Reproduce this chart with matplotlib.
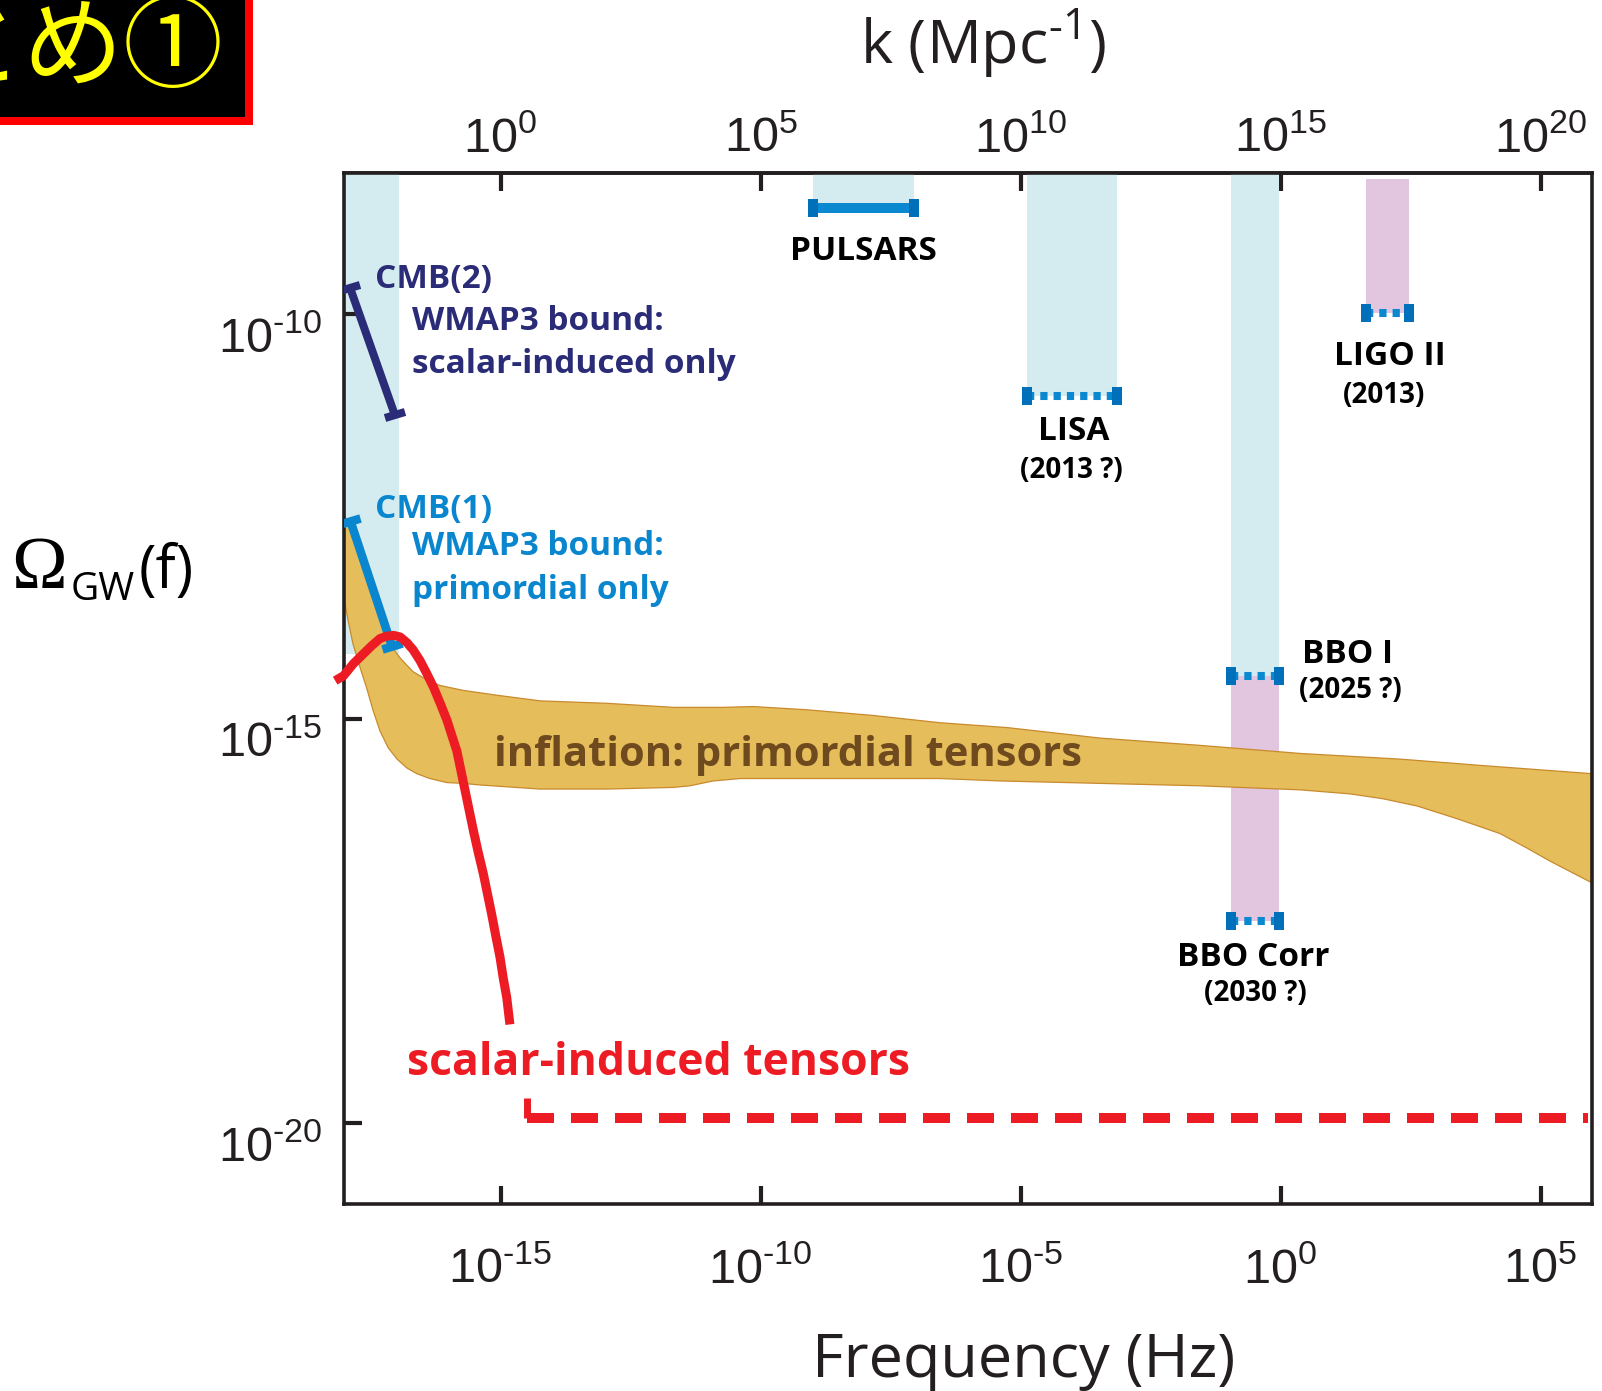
import numpy as np
import matplotlib
matplotlib.use("Agg")
import matplotlib.pyplot as plt
from matplotlib.markers import MarkerStyle
from matplotlib.transforms import Affine2D, ScaledTranslation
from matplotlib.patches import Rectangle
from matplotlib.ticker import FixedLocator, FuncFormatter, NullLocator

plt.rcParams['font.family'] = ['Open Sans', 'DejaVu Sans']

# ---------------- data (all values are log10) ----------------
# x = log10(f / Hz), y = log10(Omega_GW)
infl_upper_x = [-18.02, -17.51, -17.07, -16.93, -16.80, -16.68, -16.55, -16.36, -16.16, -15.72, -15.07,
                -14.24, -12.95, -11.68, -10.72, -10.14, -9.11, -7.84, -6.55, -5.26, -3.47, -1.55, 0.38,
                2.30, 3.89, 5.99]
infl_upper_y = [-12.45, -13.35, -14.13, -14.25, -14.34, -14.42, -14.47, -14.54, -14.59, -14.65, -14.71,
                -14.78, -14.81, -14.86, -14.86, -14.85, -14.89, -14.96, -15.05, -15.11, -15.24, -15.33, -15.43,
                -15.50, -15.58, -15.68]
infl_lower_x = [-18.02, -17.93, -17.84, -17.70, -17.57, -17.45, -17.32, -17.16, -16.99, -16.80, -16.61,
                -16.36, -16.03, -15.72, -15.39, -14.24, -12.95, -11.68, -11.36, -10.91, -10.39, -9.11,
                -7.84, -6.55, -5.39, -3.47, -1.55, 0.38, 1.34, 1.97, 2.63, 3.41, 4.22, 4.74, 5.18, 5.99]
infl_lower_y = [-13.48, -13.79, -14.07, -14.37, -14.63, -14.90, -15.15, -15.36, -15.50, -15.61, -15.68,
                -15.74, -15.79, -15.80, -15.82, -15.87, -15.87, -15.85, -15.83, -15.77, -15.74, -15.74,
                -15.74, -15.74, -15.77, -15.80, -15.83, -15.88, -15.93, -15.99, -16.08, -16.24, -16.42,
                -16.60, -16.76, -17.03]

scalar_x = [-18.18, -18.02, -17.83, -17.64, -17.48, -17.32, -17.19, -17.06, -16.93, -16.80, -16.68,
            -16.55, -16.42, -16.29, -16.16, -16.03, -15.84, -15.72, -15.62, -15.52, -15.43, -15.33,
            -15.25, -15.17, -15.09, -15.01, -14.95, -14.88, -14.82]
scalar_y = [-14.53, -14.47, -14.32, -14.20, -14.10, -14.01, -13.98, -13.97, -13.99, -14.06, -14.15,
            -14.28, -14.44, -14.61, -14.81, -15.02, -15.40, -15.77, -16.08, -16.39, -16.65, -16.92,
            -17.17, -17.42, -17.69, -17.95, -18.20, -18.45, -18.78]
scalar_step_x = [-14.49, -14.49]
scalar_step_y = [-19.69, -19.94]
scalar_flat_x = [-14.49, 5.91]
scalar_flat_y = [-19.94, -19.94]

cmb2_x = [-17.89, -17.03]
cmb2_y = [-9.68, -11.25]
cmb1_x = [-17.89, -17.09]
cmb1_y = [-12.55, -14.10]

# sensitivity bands
Y_TOP = -8.26
band_names = ['CMB', 'PULSARS', 'LISA', 'BBO I', 'BBO Corr', 'LIGO II']
band_x_lo = [-18.02, -9.00, -4.87, -0.96, -0.96, 1.64]
band_x_hi = [-16.95, -7.05, -3.15, -0.02, -0.02, 2.47]
band_y_lo = [-14.20, -8.69, -11.01, -14.47, -17.50, -9.99]
band_y_hi = [Y_TOP, Y_TOP, Y_TOP, Y_TOP, -14.47, -8.33]
band_kind = ['cyan', 'cyan', 'cyan', 'cyan', 'purple', 'purple']

# detector sensitivity bars
bar_names = ['PULSARS', 'LISA', 'LIGO II', 'BBO I', 'BBO Corr']
bar_x_lo = [-9.00, -4.87, 1.64, -0.96, -0.96]
bar_x_hi = [-7.05, -3.15, 2.47, -0.02, -0.02]
bar_y = [-8.69, -11.01, -9.99, -14.47, -17.50]
bar_solid = [True, False, False, False, False]

x_ticks = [-15, -10, -5, 0, 5]
k_ticks = [0, 5, 10, 15, 20]
y_ticks = [-20, -15, -10]
K_PER_HZ = 1e15

# ---------------- colours ----------------
CYAN = '#d4ecf0'
PURPLE = '#e2c6e0'
GOLD = '#e5bd5a'
GOLD_EDGE = '#c98a2e'
BROWN = '#6e4a1e'
RED = '#ed1c24'
NAVY = '#2b2c78'
BLUE = '#0a86cf'
BARBLUE = '#0a88d0'
CAPBLUE = '#0070bb'
INK = '#231f20'
TICKFONT = ['Liberation Sans', 'DejaVu Sans']
HY = '\u2010'

fig = plt.figure(figsize=(16.02, 13.91), dpi=100)
ax = fig.add_axes([0.21442, 0.13444, 0.77934, 0.74083])
ax.set_xscale('log')
ax.set_yscale('log')
ax.set_xlim(10**-18.02, 10**5.99)
ax.set_ylim(10**-21.0, 10**Y_TOP)

P = lambda a: 10.0**np.asarray(a, dtype=float)

# bands
for xl, xh, yl, yh, kd in zip(band_x_lo, band_x_hi, band_y_lo, band_y_hi, band_kind):
    ax.fill_between(P([xl, xh]), P(yl), P(yh), color=CYAN if kd == 'cyan' else PURPLE,
                    lw=0, zorder=1)

# inflation band
poly_x = list(infl_upper_x) + list(infl_lower_x[::-1])
poly_y = list(infl_upper_y) + list(infl_lower_y[::-1])
ax.fill(P(poly_x), P(poly_y), color=GOLD, lw=0, zorder=2)
ax.plot(P(infl_upper_x), P(infl_upper_y), color=GOLD_EDGE, lw=0.9, zorder=2.1)
ax.plot(P(infl_lower_x), P(infl_lower_y), color=GOLD_EDGE, lw=0.9, zorder=2.1)

# detector bars
for xl, xh, yv, solid in zip(bar_x_lo, bar_x_hi, bar_y, bar_solid):
    if solid:
        ax.plot(P([xl, xh]), P([yv, yv]), color=BARBLUE, lw=7.2, solid_capstyle='butt', zorder=3)
    else:
        ax.plot(P([xl, xh]), P([yv, yv]), color=BARBLUE, lw=5.8, dash_capstyle='butt',
                linestyle=(0, (0.9, 0.75)), zorder=3)
    ax.plot(P([xl, xh]), P([yv, yv]), ls='none', marker='|', markersize=13, mew=7.2,
            color=CAPBLUE, zorder=3.1)


def seg_angle(xs, ys):
    p0 = ax.transData.transform((10**xs[0], 10**ys[0]))
    p1 = ax.transData.transform((10**xs[1], 10**ys[1]))
    return np.degrees(np.arctan2(p1[1] - p0[1], p1[0] - p0[0]))


for xs, ys, col, lw in [(cmb2_x, cmb2_y, NAVY, 5.8), (cmb1_x, cmb1_y, BLUE, 6.2)]:
    ang = seg_angle(xs, ys)
    ax.plot(P(xs), P(ys), color=col, lw=lw, solid_capstyle='butt', zorder=4)
    mk = MarkerStyle('_', transform=Affine2D().rotate_deg(ang + 90))
    ax.plot(P(xs), P(ys), ls='none', marker=mk, markersize=15, mew=lw, color=col, zorder=4)

# scalar-induced tensors
ax.plot(P(scalar_x), P(scalar_y), color=RED, lw=6.5, solid_capstyle='butt', solid_joinstyle='round',
        zorder=5, clip_on=False)
ax.plot(P(scalar_step_x), P(scalar_step_y), color=RED, lw=5.0, solid_capstyle='butt', zorder=5)
ax.plot(P(scalar_flat_x), P(scalar_flat_y), color=RED, lw=7.2, dash_capstyle='butt',
        linestyle=(0, (2.7, 1.7)), zorder=5)

# ---------------- annotations ----------------
def T(x, y, s, **kw):
    ax.text(10**x, 10**y, s, va='baseline', zorder=6, **kw)

T(-17.41, -9.68, 'CMB(2)', color=NAVY, fontsize=24, fontweight='bold', ha='left')
T(-16.71, -10.20, 'WMAP3 bound:', color=NAVY, fontsize=24, fontweight='bold', ha='left')
T(-16.71, -10.73, 'scalar-induced only', color=NAVY, fontsize=24, fontweight='bold', ha='left')
T(-17.41, -12.52, 'CMB(1)', color=BLUE, fontsize=24, fontweight='bold', ha='left')
T(-16.71, -12.98, 'WMAP3 bound:', color=BLUE, fontsize=24, fontweight='bold', ha='left')
T(-16.71, -13.52, 'primordial only', color=BLUE, fontsize=24, fontweight='bold', ha='left')

T(-8.02, -9.33, 'PULSARS', color='black', fontsize=24, fontweight='bold', ha='center')
T(-3.97, -11.56, 'LISA', color='black', fontsize=24, fontweight='bold', ha='center')
T(-4.03, -12.02, '(2013 ?)', color='black', fontsize=20, fontweight='bold', ha='center')
T(2.11, -10.63, 'LIGO II', color='black', fontsize=24, fontweight='bold', ha='center')
T(2.00, -11.10, '(2013)', color='black', fontsize=20, fontweight='bold', ha='center')
T(1.28, -14.31, 'BBO I', color='black', fontsize=24, fontweight='bold', ha='center')
T(1.34, -14.75, '(2025 ?)', color='black', fontsize=20, fontweight='bold', ha='center')
T(-0.53, -18.06, 'BBO Corr', color='black', fontsize=24, fontweight='bold', ha='center')
T(-0.49, -18.49, '(2030 ?)', color='black', fontsize=20, fontweight='bold', ha='center')

T(-15.125, -15.58, 'inflation: primordial tensors', color=BROWN, fontsize=30, fontweight='bold', ha='left')
T(-16.80, -19.41, 'scalar-induced tensors', color=RED, fontsize=32, fontweight='bold', ha='left')

# ---------------- axes styling ----------------
def pow_label(v, pos):
    e = int(round(np.log10(v)))
    es = (HY + str(-e)) if e < 0 else str(e)
    return r'$\mathregular{10^{%s}}$' % es

fmt = FuncFormatter(pow_label)
ax.xaxis.set_major_locator(FixedLocator(P(x_ticks)))
ax.xaxis.set_minor_locator(NullLocator())
ax.yaxis.set_major_locator(FixedLocator(P(y_ticks)))
ax.yaxis.set_minor_locator(NullLocator())
ax.xaxis.set_major_formatter(fmt)
ax.yaxis.set_major_formatter(fmt)
ax.tick_params(which='major', direction='in', length=13, width=3, color=INK, labelcolor=INK,
               labelsize=35, top=False, right=False, labelfontfamily=TICKFONT)
ax.tick_params(axis='x', pad=0)
ax.tick_params(axis='y', pad=15.5)
for s in ax.spines.values():
    s.set_linewidth(2.6)
    s.set_color(INK)

secax = ax.secondary_xaxis('top', functions=(lambda f: f * K_PER_HZ, lambda k: k / K_PER_HZ))
secax.xaxis.set_major_locator(FixedLocator(P(k_ticks)))
secax.xaxis.set_minor_locator(NullLocator())
secax.xaxis.set_major_formatter(fmt)
secax.tick_params(which='major', direction='in', length=13, width=3, color=INK, labelcolor=INK,
                  labelsize=35, pad=0, labelfontfamily=TICKFONT)
secax.spines['top'].set_linewidth(2.6)
secax.spines['top'].set_color(INK)


def offset_labels(axis, dy_px):
    for t in axis.get_major_ticks():
        for lab in (t.label1, t.label2):
            lab.set_va('baseline')
            lab.set_transform(lab.get_transform() + ScaledTranslation(0, dy_px / 100.0, fig.dpi_scale_trans))

offset_labels(ax.xaxis, -79)
offset_labels(ax.yaxis, -38)
offset_labels(secax.xaxis, 21)

ax.set_xlabel('Frequency (Hz)', fontsize=44, color=INK)
ax.xaxis.label.set_va('baseline')
ax.xaxis.set_label_coords(0.545, -0.168)
secax.set_xlabel(r'k (Mpc$^{\mathregular{%s1}}$)' % HY, fontsize=44, color=INK)
secax.xaxis.label.set_va('baseline')
secax.xaxis.set_label_coords(0.512, 1.107, transform=ax.transAxes)

# y label  Omega_GW(f)
H, W = 1391.0, 1602.0
fig.text(11 / W, 1 - 588 / H, '\u03a9', fontsize=54, family=['Liberation Serif', 'DejaVu Serif'],
         color='black', va='baseline', ha='left')
fig.text(71 / W, 1 - 600 / H, 'GW', fontsize=28, color='black', va='baseline', ha='left')
fig.text(139 / W, 1 - 588 / H, '(f)', fontsize=43, color='black', va='baseline', ha='left')

# title badge (top-left)
fig.patches.append(Rectangle((0, 1 - 125 / H), 253 / W, 125 / H, transform=fig.transFigure,
                             facecolor='#ff0000', edgecolor='none', zorder=0))
fig.patches.append(Rectangle((0, 1 - 117 / H), 245 / W, 117 / H, transform=fig.transFigure,
                             facecolor='black', edgecolor='none', zorder=0.5))
fig.text(224 / W, 1 - 50 / H, '\u307e\u3068\u3081\u2460', fontsize=72, color='#ffff00',
         family=['Noto Sans CJK JP', 'DejaVu Sans'], ha='right', va='center')

fig.savefig('out.png', dpi=100)
